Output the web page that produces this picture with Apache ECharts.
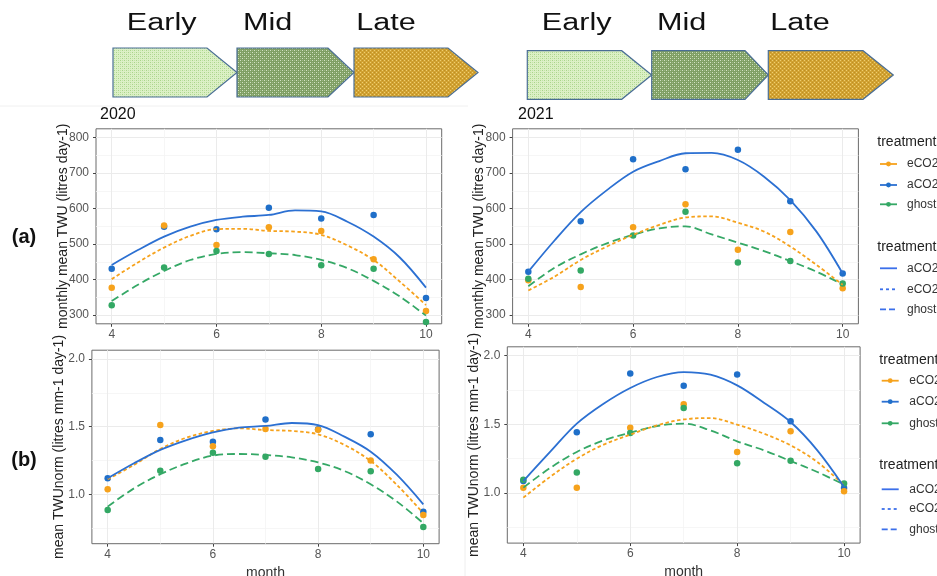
<!DOCTYPE html>
<html>
<head>
<meta charset="utf-8">
<script src="https://cdn.jsdelivr.net/npm/echarts@6/dist/echarts.min.js"></script>
<style>
html,body{margin:0;padding:0;background:#fff;}
#chart{width:937px;height:576px;}
</style>
</head>
<body>
<div id="chart"></div>
<script>
// ---------- data ----------
const months = [4, 5, 6, 7, 8, 9, 10];
const xTickLabels = [4, 6, 8, 10];
const yTicksTWU = [300, 400, 500, 600, 700, 800];
const yTicksNorm = [1.0, 1.5, 2.0];
const treatments = ['eCO2', 'aCO2', 'ghost'];
const phases = ['Early', 'Mid', 'Late'];
const years = ['2020', '2021'];
const rowLabels = ['(a)', '(b)'];

// (a) monthly mean TWU, points
const twu2020_aCO2 = [430, 549, 542, 602, 572, 582, 348];
const twu2020_eCO2 = [377, 552, 497, 547, 537, 457, 311];
const twu2020_ghost = [327, 434, 480, 472, 440, 430, 280];
const twu2021_aCO2 = [422, 564, 739, 711, 766, 621, 417];
const twu2021_eCO2 = [398, 379, 547, 612, 484, 534, 375];
const twu2021_ghost = [402, 425, 524, 591, 448, 452, 389];

// (b) mean TWUnorm, points
const norm2020_aCO2 = [1.118, 1.401, 1.389, 1.552, 1.480, 1.443, 0.872];
const norm2020_eCO2 = [1.037, 1.512, 1.355, 1.483, 1.478, 1.249, 0.847];
const norm2020_ghost = [0.884, 1.175, 1.308, 1.278, 1.187, 1.170, 0.759];
const norm2021_aCO2 = [1.087, 1.442, 1.871, 1.782, 1.864, 1.522, 1.036];
const norm2021_eCO2 = [1.039, 1.039, 1.476, 1.646, 1.299, 1.449, 1.012];
const norm2021_ghost = [1.097, 1.150, 1.437, 1.619, 1.216, 1.235, 1.070];

// fitted (smooth) curves
const fitX = [4, 4.5, 5, 5.5, 6, 6.5, 7, 7.5, 8, 8.5, 9, 9.5, 10];
const fitTwu2020_aCO2 = [441, 483, 521, 549, 568, 577, 582, 595, 592, 563, 521, 462, 377];
const fitTwu2020_eCO2 = [401, 448, 490, 523, 542, 543, 537, 535, 526, 496, 455, 394, 328];
const fitTwu2020_ghost = [339, 385, 424, 455, 472, 477, 474, 469, 455, 432, 396, 352, 298];
const fitTwu2021_aCO2 = [422, 510, 590, 652, 704, 734, 756, 757, 737, 690, 624, 535, 417];
const fitTwu2021_eCO2 = [369, 408, 455, 493, 526, 554, 575, 578, 560, 535, 493, 441, 385];
const fitTwu2021_ghost = [381, 433, 471, 502, 526, 544, 550, 527, 504, 480, 452, 422, 386];
const fitNorm2020_aCO2 = [1.118, 1.229, 1.328, 1.401, 1.458, 1.493, 1.505, 1.527, 1.512, 1.426, 1.315, 1.143, 0.926];
const fitNorm2020_eCO2 = [1.111, 1.217, 1.335, 1.419, 1.468, 1.488, 1.475, 1.468, 1.443, 1.365, 1.246, 1.069, 0.860];
const fitNorm2020_ghost = [0.909, 1.044, 1.148, 1.229, 1.286, 1.298, 1.291, 1.273, 1.236, 1.172, 1.074, 0.946, 0.786];
const fitNorm2021_aCO2 = [1.087, 1.299, 1.505, 1.650, 1.765, 1.845, 1.881, 1.862, 1.784, 1.658, 1.517, 1.311, 1.044];
const fitNorm2021_eCO2 = [0.966, 1.117, 1.250, 1.352, 1.425, 1.493, 1.536, 1.546, 1.498, 1.432, 1.347, 1.226, 1.056];
const fitNorm2021_ghost = [1.039, 1.182, 1.299, 1.383, 1.439, 1.488, 1.505, 1.456, 1.376, 1.311, 1.233, 1.153, 1.061];

// ---------- styling ----------
const COL = { eCO2: '#F6A21C', aCO2: '#1F6FC9', ghost: '#33A864' };
const LINECOL = { eCO2: '#F6A21C', aCO2: '#2C70D2', ghost: '#35A866' };
const DASH = { aCO2: 'solid', eCO2: [3.5, 2.5], ghost: [8, 4] };
const KEYBLUE = '#3B6FEA';
const FONT = '"Liberation Sans", Arial, sans-serif';

const panels = [
  { grid: { left: 96, top: 128.8, width: 345.7, height: 195 }, y: [275, 825], split: 5, ticks: yTicksTWU, dec: 0,
    yName: 'monthly mean TWU (litres day-1)', xName: '',
    pts: { aCO2: twu2020_aCO2, eCO2: twu2020_eCO2, ghost: twu2020_ghost },
    fit: { aCO2: fitTwu2020_aCO2, eCO2: fitTwu2020_eCO2, ghost: fitTwu2020_ghost } },
  { grid: { left: 512.6, top: 128.8, width: 345.8, height: 195 }, y: [275, 825], split: 5, ticks: yTicksTWU, dec: 0,
    yName: 'monthly mean TWU (litres day-1)', xName: '',
    pts: { aCO2: twu2021_aCO2, eCO2: twu2021_eCO2, ghost: twu2021_ghost },
    fit: { aCO2: fitTwu2021_aCO2, eCO2: fitTwu2021_eCO2, ghost: fitTwu2021_ghost } },
  { grid: { left: 91.9, top: 350.2, width: 347.2, height: 193.5 }, y: [0.635, 2.065], split: 3, ticks: yTicksNorm, dec: 1,
    yName: 'mean TWUnorm (litres mm-1 day-1)', xName: 'month',
    pts: { aCO2: norm2020_aCO2, eCO2: norm2020_eCO2, ghost: norm2020_ghost },
    fit: { aCO2: fitNorm2020_aCO2, eCO2: fitNorm2020_eCO2, ghost: fitNorm2020_ghost } },
  { grid: { left: 507.3, top: 346.8, width: 352.8, height: 196.3 }, y: [0.635, 2.065], split: 3, ticks: yTicksNorm, dec: 1,
    yName: 'mean TWUnorm (litres mm-1 day-1)', xName: 'month',
    pts: { aCO2: norm2021_aCO2, eCO2: norm2021_eCO2, ghost: norm2021_ghost },
    fit: { aCO2: fitNorm2021_aCO2, eCO2: fitNorm2021_eCO2, ghost: fitNorm2021_ghost } }
];

const grids = [], xAxes = [], yAxes = [], series = [];
const near = (v, list) => list.some(t => Math.abs(v - t) < 1e-6);

panels.forEach((p, i) => {
  grids.push(Object.assign({ show: true, borderColor: '#6b6b6b', borderWidth: 1, backgroundColor: '#fff',
    containLabel: false, outerBoundsMode: 'none' }, p.grid));
  xAxes.push({
    type: 'value', gridIndex: i, min: 3.7, max: 10.3, splitNumber: 3,
    axisLine: { show: false },
    axisTick: { show: true, length: 3, lineStyle: { color: '#444' } },
    axisLabel: { color: '#555', fontSize: 12, fontFamily: FONT, margin: 5, showMinLabel: false, showMaxLabel: false,
      formatter: v => near(v, xTickLabels) ? String(v) : '' },
    splitLine: { show: true, showMinLine: false, showMaxLine: false, lineStyle: { color: '#EBEBEB', width: 1 } },
    minorTick: { show: false, splitNumber: 2 },
    minorSplitLine: { show: true, lineStyle: { color: '#F4F4F4', width: 0.8 } },
    name: p.xName, nameLocation: 'middle', nameGap: 22, nameMoveOverlap: false,
    nameTextStyle: { color: '#333', fontSize: 14, fontFamily: FONT }
  });
  yAxes.push({
    type: 'value', gridIndex: i, min: p.y[0], max: p.y[1], splitNumber: p.split,
    axisLine: { show: false },
    axisTick: { show: true, length: 3, lineStyle: { color: '#444' } },
    axisLabel: { color: '#555', fontSize: 12, fontFamily: FONT, margin: 7, showMinLabel: false, showMaxLabel: false,
      formatter: v => near(v, p.ticks) ? v.toFixed(p.dec) : '' },
    splitLine: { show: true, showMinLine: false, showMaxLine: false, lineStyle: { color: '#EBEBEB', width: 1 } },
    minorTick: { show: false, splitNumber: 2 },
    minorSplitLine: { show: true, lineStyle: { color: '#F4F4F4', width: 0.8 } },
    name: p.yName, nameLocation: 'middle', nameGap: 26, nameRotate: 90, nameMoveOverlap: false,
    nameTextStyle: { color: '#222', fontSize: 14, fontFamily: FONT }
  });
  ['aCO2', 'eCO2', 'ghost'].forEach(t => {
    series.push({
      name: t, type: 'scatter', xAxisIndex: i, yAxisIndex: i, symbolSize: 6.5,
      itemStyle: { color: COL[t], opacity: 1 }, z: 3,
      data: months.map((m, k) => [m, p.pts[t][k]])
    });
  });
  ['ghost', 'eCO2', 'aCO2'].forEach(t => {
    series.push({
      name: t + ' fit', type: 'line', xAxisIndex: i, yAxisIndex: i, smooth: 0.35, symbol: 'none', z: 4,
      lineStyle: { color: LINECOL[t], width: 1.8, type: DASH[t] },
      data: fitX.map((x, k) => [x, p.fit[t][k]])
    });
  });
});

// ---------- decorations: phase banners, labels, legends ----------
function makePattern(base, dot, dot2) {
  const c = document.createElement('canvas');
  c.width = 4; c.height = 4;
  const ctx = c.getContext('2d');
  ctx.fillStyle = base; ctx.fillRect(0, 0, 4, 4);
  ctx.fillStyle = dot; ctx.fillRect(0, 0, 1, 1); ctx.fillRect(2, 2, 1, 1);
  ctx.fillStyle = dot2; ctx.fillRect(2, 0, 1, 1); ctx.fillRect(0, 2, 1, 1);
  return { image: c, repeat: 'repeat' };
}
const fills = [
  makePattern('#dcf0c6', '#a9d48a', '#c2e4a6'),
  makePattern('#7f9f64', '#d3e3c4', '#9cb884'),
  makePattern('#d1a232', '#f0cf70', '#c08f22')
];

const graphics = [];
const banners = [
  { top: 48, bottom: 97, arrows: [[113, 207, 237], [237, 328, 354], [354, 448, 478]], labels: [161.7, 267.7, 386] },
  { top: 50.7, bottom: 99.3, arrows: [[527.3, 621.7, 651.7], [651.7, 745, 768.3], [768.3, 863, 893.3]], labels: [576.7, 681.7, 800] }
];
banners.forEach(b => {
  const mid = (b.top + b.bottom) / 2;
  b.arrows.forEach((a, k) => {
    graphics.push({
      type: 'polygon', z: 10,
      shape: { points: [[a[0], b.top], [a[1], b.top], [a[2], mid], [a[1], b.bottom], [a[0], b.bottom]] },
      style: { fill: fills[k], stroke: '#4A6E95', lineWidth: 1.2 }
    });
    graphics.push({
      type: 'text', x: b.labels[k], y: 24, scaleX: 1.33, z: 10,
      style: { text: phases[k], x: 0, y: 0, align: 'center', verticalAlign: 'middle', fontSize: 23, fontFamily: FONT, fill: '#111' }
    });
  });
});

// faint compositing separators
graphics.push({ type: 'line', shape: { x1: 0, y1: 106, x2: 468, y2: 106 }, style: { stroke: '#f0f0f0', lineWidth: 1 }, z: 0 });
graphics.push({ type: 'line', shape: { x1: 465, y1: 340, x2: 465, y2: 576 }, style: { stroke: '#eeeeee', lineWidth: 1 }, z: 0 });

// row labels
[[24, 237], [24, 460]].forEach((pos, k) => {
  graphics.push({ type: 'text', x: pos[0], y: pos[1], z: 10,
    style: { text: rowLabels[k], align: 'center', verticalAlign: 'middle', fontSize: 20, fontWeight: 'bold', fontFamily: FONT, fill: '#111' } });
});

// legends
const legends = [
  { tx: 877.3, kx: 880, ktx: 907, ys: [141.7, 164, 185, 204.3, 246.7, 268.3, 289.3, 309.3] },
  { tx: 879.3, kx: 881.7, ktx: 909.3, ys: [360, 380.7, 401.7, 423.3, 465, 489.3, 509, 529.3] }
];
const lineOrder = ['aCO2', 'eCO2', 'ghost'];
legends.forEach(L => {
  [L.ys[0], L.ys[4]].forEach(y => graphics.push({ type: 'text', x: L.tx, y: y, z: 10,
    style: { text: 'treatment', align: 'left', verticalAlign: 'middle', fontSize: 14, fontFamily: FONT, fill: '#222' } }));
  treatments.forEach((t, k) => {
    const y = L.ys[1 + k];
    graphics.push({ type: 'line', z: 10, shape: { x1: L.kx, y1: y, x2: L.kx + 17, y2: y }, style: { stroke: LINECOL[t], lineWidth: 1.8 } });
    graphics.push({ type: 'circle', z: 11, shape: { cx: L.kx + 8.5, cy: y, r: 2.4 }, style: { fill: COL[t] } });
    graphics.push({ type: 'text', x: L.ktx, y: y, z: 10,
      style: { text: t, align: 'left', verticalAlign: 'middle', fontSize: 12, fontFamily: FONT, fill: '#333' } });
  });
  lineOrder.forEach((t, k) => {
    const y = L.ys[5 + k];
    const d = DASH[t];
    graphics.push({ type: 'line', z: 10, shape: { x1: L.kx, y1: y, x2: L.kx + 17, y2: y },
      style: { stroke: KEYBLUE, lineWidth: 1.8, lineDash: d === 'solid' ? null : (t === 'eCO2' ? [3, 3] : [6, 3]) } });
    graphics.push({ type: 'text', x: L.ktx, y: y, z: 10,
      style: { text: t, align: 'left', verticalAlign: 'middle', fontSize: 12, fontFamily: FONT, fill: '#333' } });
  });
});

const option = {
  backgroundColor: '#fff',
  animation: false,
  title: [
    { text: years[0], left: 100, top: 107, padding: 0, textStyle: { fontSize: 16, fontWeight: 'normal', color: '#111', fontFamily: FONT, lineHeight: 16 } },
    { text: years[1], left: 518, top: 107, padding: 0, textStyle: { fontSize: 16, fontWeight: 'normal', color: '#111', fontFamily: FONT, lineHeight: 16 } }
  ],
  grid: grids,
  xAxis: xAxes,
  yAxis: yAxes,
  series: series,
  graphic: { elements: graphics }
};

const chart = echarts.init(document.getElementById('chart'), null, { renderer: 'canvas' });
chart.setOption(option);
</script>
</body>
</html>
